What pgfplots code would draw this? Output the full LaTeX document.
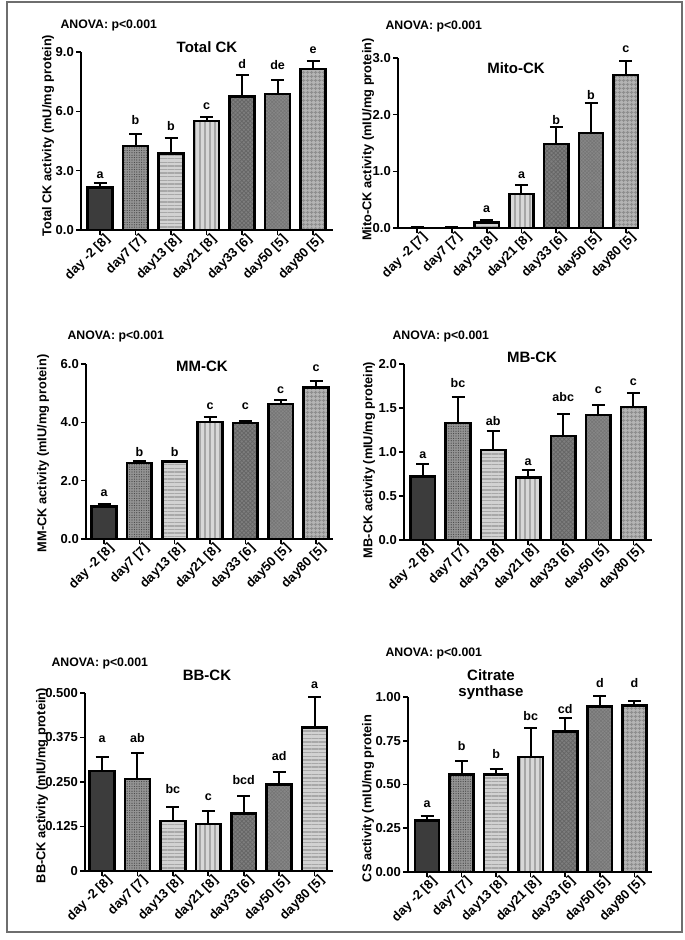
\documentclass[border=0pt]{standalone}
\usepackage{fontspec}
\setmainfont{Liberation Sans}
\usepackage{pgfplots}
\pgfplotsset{compat=1.18}
\usetikzlibrary{patterns.meta}

\definecolor{framec}{HTML}{6E6E6E}
\definecolor{f1}{HTML}{3C3C3C}
\definecolor{f2}{HTML}{949494}
\definecolor{p2}{HTML}{444444}
\definecolor{f3}{HTML}{D2D2D2}
\definecolor{p3}{HTML}{A8A8A8}
\definecolor{f4}{HTML}{D8D8D8}
\definecolor{p4}{HTML}{A6A6A6}
\definecolor{f5}{HTML}{7E7E7E}
\definecolor{p5}{HTML}{656565}
\definecolor{f6}{HTML}{878787}
\definecolor{p6}{HTML}{747474}
\definecolor{f7}{HTML}{B4B4B4}
\definecolor{p7}{HTML}{8E8E8E}

\newcommand\tk{\bfseries\fontsize{13}{15}\selectfont}
\newcommand\lt{\bfseries\fontsize{12.5}{14}\selectfont}
\newcommand\ttl{\bfseries\fontsize{15}{17}\selectfont}

\tikzset{lbl/.style={anchor=base, font=\lt, inner sep=0pt},
  anova/.style={anchor=west, font=\bfseries\fontsize{12.3}{14}\selectfont}}

\pgfplotsset{
  panel/.style={
    scale only axis, anchor=south west, clip=false,
    ymin=0,
    axis x line*=bottom, axis y line*=left,
    axis line style={line width=1.7pt, -},
    xtick={0,1,2,3,4,5,6},
    xticklabels={day -2 [8], day7 [7], day13 [8], day21 [8], day33 [6], day50 [5], day80 [5]},
    x tick label style={rotate=45, anchor=north east, font=\tk, inner sep=1pt, xshift=5pt},
    y tick label style={font=\tk, inner sep=2pt},
    ylabel style={font=\bfseries\fontsize{12.8}{14}\selectfont, anchor=center},
    tick style={line width=1.6pt, black},
    tick align=outside, major tick length=5pt,
    ybar, bar width=0.7, bar shift=0pt,
    error bars/y dir=plus, error bars/y explicit,
    error bars/error mark=|,
    error bars/error bar style={line width=2pt, black},
    error bars/error mark options={line width=2pt, mark size=6.5pt, black},
  },
  bb/.style={draw=black, line width=2.5pt},
  s1/.style={bb, fill=f1},
  s2/.style={bb, fill=f2, postaction={pattern={Dots[distance=2.4pt, radius=0.6pt]}, pattern color=p2}},
  s3/.style={bb, fill=f3, postaction={pattern={Lines[angle=0, distance=3.6pt, line width=1.4pt]}, pattern color=p3}},
  s4/.style={bb, fill=f4, postaction={pattern={Lines[angle=90, distance=5pt, line width=1.8pt]}, pattern color=p4}},
  s5/.style={bb, fill=f5, postaction={pattern={Hatch[angle=45, distance=3pt, line width=0.7pt]}, pattern color=p5}},
  s6/.style={bb, fill=f6, postaction={pattern={Hatch[angle=45, distance=2.5pt, line width=0.5pt]}, pattern color=p6}},
  s7/.style={bb, fill=f7, postaction={pattern={Hatch[angle=0, distance=4pt, line width=1.4pt]}, pattern color=p7}},
}

\begin{document}
\begin{tikzpicture}
\useasboundingbox (0,0) rectangle (685pt,-940pt);
\draw[framec, line width=1.6pt] (7pt,-2pt) rectangle (682pt,-932pt);

% ---------- Total CK
\node[anova] at (57pt,-25pt) {ANOVA: p<0.001};
\node[font=\ttl] at (207pt,-47pt) {Total CK};
\begin{axis}[panel, at={(81pt,-230pt)}, width=252pt, height=178pt,
  xmin=-0.535, xmax=6.56, ymax=9, ytick={0,3,6,9}, yticklabels={0.0,3.0,6.0,9.0},
  ylabel={Total CK activity (mU/mg protein)},
  ylabel style={at={(axis description cs:-0.131,0.53)}}]
\addplot[s1] coordinates {(0,2.15) +- (0,0.25)};
\addplot[s2] coordinates {(1,4.25) +- (0,0.58)};
\addplot[s3] coordinates {(2,3.87) +- (0,0.78)};
\addplot[s4] coordinates {(3,5.50) +- (0,0.23)};
\addplot[s5] coordinates {(4,6.75) +- (0,1.10)};
\addplot[s6] coordinates {(5,6.87) +- (0,0.73)};
\addplot[s7] coordinates {(6,8.14) +- (0,0.39)};
\node[lbl] at (axis cs:0,2.58) {a};
\node[lbl] at (axis cs:1,5.32) {b};
\node[lbl] at (axis cs:2,5.02) {b};
\node[lbl] at (axis cs:3,6.08) {c};
\node[lbl] at (axis cs:4,8.16) {d};
\node[lbl] at (axis cs:5,8.11) {de};
\node[lbl] at (axis cs:6,8.90) {e};
\end{axis}

% ---------- Mito-CK
\node[anova] at (382pt,-26pt) {ANOVA: p<0.001};
\node[font=\ttl] at (516pt,-68pt) {Mito-CK};
\begin{axis}[panel, at={(398pt,-228pt)}, width=240pt, height=170pt,
  xmin=-0.55, xmax=6.35, ymax=3, ytick={0,1,2,3}, yticklabels={0.0,1.0,2.0,3.0},
  xticklabels={day -2 [7], day7 [7], day13 [8], day21 [8], day33 [6], day50 [5], day80 [5]},
  ylabel={Mito-CK activity (mIU/mg protein)},
  ylabel style={at={(axis description cs:-0.125,0.52)}}]
\addplot[s1] coordinates {(0,0.0) +- (0,0.02)};
\addplot[s2] coordinates {(1,0.0) +- (0,0.02)};
\addplot[s3] coordinates {(2,0.10) +- (0,0.05)};
\addplot[s4] coordinates {(3,0.60) +- (0,0.16)};
\addplot[s5] coordinates {(4,1.48) +- (0,0.30)};
\addplot[s6] coordinates {(5,1.68) +- (0,0.52)};
\addplot[s7] coordinates {(6,2.70) +- (0,0.24)};
\node[lbl] at (axis cs:2,0.27) {a};
\node[lbl] at (axis cs:3,0.87) {a};
\node[lbl] at (axis cs:4,1.82) {b};
\node[lbl] at (axis cs:5,2.26) {b};
\node[lbl] at (axis cs:6,3.09) {c};
\end{axis}

% ---------- MM-CK
\node[anova] at (64pt,-336pt) {ANOVA: p<0.001};
\node[font=\ttl] at (202pt,-366pt) {MM-CK};
\begin{axis}[panel, at={(86pt,-539pt)}, width=247pt, height=175pt,
  xmin=-0.51, xmax=6.48, ymax=6, ytick={0,2,4,6}, yticklabels={0.0,2.0,4.0,6.0},
  ylabel={MM-CK activity (mIU/mg protein)},
  ylabel style={at={(axis description cs:-0.174,0.49)}}]
\addplot[s1] coordinates {(0,1.12) +- (0,0.08)};
\addplot[s2] coordinates {(1,2.61) +- (0,0.05)};
\addplot[s3] coordinates {(2,2.66) +- (0,0.03)};
\addplot[s4] coordinates {(3,4.01) +- (0,0.19)};
\addplot[s5] coordinates {(4,3.97) +- (0,0.08)};
\addplot[s6] coordinates {(5,4.63) +- (0,0.14)};
\addplot[s7] coordinates {(6,5.20) +- (0,0.22)};
\node[lbl] at (axis cs:0,1.46) {a};
\node[lbl] at (axis cs:1,2.83) {b};
\node[lbl] at (axis cs:2,2.83) {b};
\node[lbl] at (axis cs:3,4.43) {c};
\node[lbl] at (axis cs:4,4.43) {c};
\node[lbl] at (axis cs:5,4.98) {c};
\node[lbl] at (axis cs:6,5.75) {c};
\end{axis}

% ---------- MB-CK
\node[anova] at (389pt,-336pt) {ANOVA: p<0.001};
\node[font=\ttl] at (532pt,-357pt) {MB-CK};
\begin{axis}[panel, at={(404pt,-540pt)}, width=248pt, height=176pt,
  xmin=-0.54, xmax=6.53, ymax=2, ytick={0,0.5,1,1.5,2}, yticklabels={0.0,0.5,1.0,1.5,2.0},
  ylabel={MB-CK activity (mIU/mg protein)},
  ylabel style={at={(axis description cs:-0.141,0.455)}}]
\addplot[s1] coordinates {(0,0.72) +- (0,0.14)};
\addplot[s2] coordinates {(1,1.33) +- (0,0.30)};
\addplot[s3] coordinates {(2,1.02) +- (0,0.22)};
\addplot[s4] coordinates {(3,0.71) +- (0,0.08)};
\addplot[s5] coordinates {(4,1.18) +- (0,0.25)};
\addplot[s6] coordinates {(5,1.42) +- (0,0.11)};
\addplot[s7] coordinates {(6,1.51) +- (0,0.16)};
\node[lbl] at (axis cs:0,0.93) {a};
\node[lbl] at (axis cs:1,1.73) {bc};
\node[lbl] at (axis cs:2,1.30) {ab};
\node[lbl] at (axis cs:3,0.85) {a};
\node[lbl] at (axis cs:4,1.57) {abc};
\node[lbl] at (axis cs:5,1.67) {c};
\node[lbl] at (axis cs:6,1.76) {c};
\end{axis}

% ---------- BB-CK
\node[anova] at (48pt,-663pt) {ANOVA: p<0.001};
\node[font=\ttl] at (207pt,-675pt) {BB-CK};
\begin{axis}[panel, at={(85pt,-871pt)}, width=248pt, height=178pt,
  xmin=-0.48, xmax=6.52, ymax=0.5, ytick={0,0.125,0.25,0.375,0.5},
  yticklabels={0,0.125,0.250,0.375,0.500},
  ylabel={BB-CK activity (mIU/mg protein)},
  ylabel style={at={(axis description cs:-0.173,0.48)}}]
\addplot[s1] coordinates {(0,0.281) +- (0,0.039)};
\addplot[s2] coordinates {(1,0.259) +- (0,0.072)};
\addplot[s3] coordinates {(2,0.140) +- (0,0.040)};
\addplot[s4] coordinates {(3,0.132) +- (0,0.037)};
\addplot[s5] coordinates {(4,0.161) +- (0,0.049)};
\addplot[s6] coordinates {(5,0.243) +- (0,0.036)};
\addplot[s3] coordinates {(6,0.403) +- (0,0.086)};
\node[lbl] at (axis cs:0,0.360) {a};
\node[lbl] at (axis cs:1,0.360) {ab};
\node[lbl] at (axis cs:2,0.217) {bc};
\node[lbl] at (axis cs:3,0.199) {c};
\node[lbl] at (axis cs:4,0.243) {bcd};
\node[lbl] at (axis cs:5,0.311) {ad};
\node[lbl] at (axis cs:6,0.514) {a};
\end{axis}

% ---------- Citrate synthase
\node[anova] at (382pt,-653pt) {ANOVA: p<0.001};
\node[font=\ttl, align=center] at (491pt,-685pt) {Citrate\\[-1pt]synthase};
\begin{axis}[panel, at={(408pt,-872pt)}, width=244pt, height=175pt,
  xmin=-0.55, xmax=6.51, ymax=1, ytick={0,0.25,0.5,0.75,1},
  yticklabels={0.00,0.25,0.50,0.75,1.00},
  ylabel={CS activity (mIU/mg protein},
  ylabel style={at={(axis description cs:-0.164,0.42)}}]
\addplot[s1] coordinates {(0,0.295) +- (0,0.025)};
\addplot[s2] coordinates {(1,0.556) +- (0,0.076)};
\addplot[s3] coordinates {(2,0.556) +- (0,0.031)};
\addplot[s4] coordinates {(3,0.657) +- (0,0.166)};
\addplot[s5] coordinates {(4,0.804) +- (0,0.076)};
\addplot[s6] coordinates {(5,0.947) +- (0,0.061)};
\addplot[s7] coordinates {(6,0.952) +- (0,0.027)};
\node[lbl] at (axis cs:0,0.371) {a};
\node[lbl] at (axis cs:1,0.695) {b};
\node[lbl] at (axis cs:2,0.648) {b};
\node[lbl] at (axis cs:3,0.867) {bc};
\node[lbl] at (axis cs:4,0.905) {cd};
\node[lbl] at (axis cs:5,1.057) {d};
\node[lbl] at (axis cs:6,1.057) {d};
\end{axis}
\end{tikzpicture}
\end{document}
